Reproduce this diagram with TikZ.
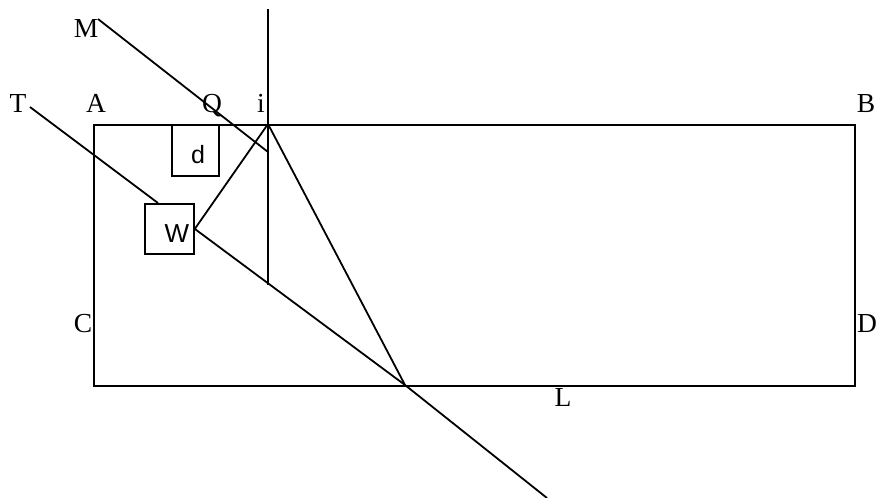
\documentclass[tikz,border=0pt]{standalone}
\usepackage{fontspec}
\setmainfont{Liberation Serif}
\newfontfamily\sansf{Liberation Sans}
\begin{document}
\begin{tikzpicture}[x=1pt,y=-1pt,line width=1.8pt,
  lbl/.style={anchor=base,inner sep=0pt,font=\fontsize{27.5}{30}\selectfont},
  slbl/.style={anchor=base,inner sep=0pt,font=\sansf\fontsize{25}{28}\selectfont},
  boxn/.style={draw,line width=1.8pt,inner sep=0pt,anchor=north west}]
\useasboundingbox (0,0) rectangle (879,498);
% frame
\node[boxn,minimum width=761,minimum height=261] (frame) at (93,124) {};
% small boxes
\node[boxn,minimum width=47,minimum height=51] (dbox) at (171,124) {};
\node[boxn,minimum width=49,minimum height=50] (wbox) at (144,203) {};
% points
\coordinate (vtop) at (268,9);
\coordinate (vbot) at (268,285);
\coordinate (i) at (268,124);
\coordinate (Mend) at (98,19);
\coordinate (Mhit) at (268,152);
\coordinate (Tend) at (30,107);
\coordinate (Thit) at (158,203);
\coordinate (P) at (405,385);
\coordinate (out) at (547,498);
% lines
\draw (vtop) -- (vbot);
\draw (Mend) -- (Mhit);
\draw (Tend) -- (Thit);
\draw (i) -- (wbox.east);
\draw (wbox.east) -- (P) -- (out);
\draw (i) -- (P);
% labels
\node[lbl] (lM) at (86,37) {M};
\node[lbl] (lT) at (18,112) {T};
\node[lbl] (lA) at (96,112) {A};
\node[lbl] (lQ) at (212,112) {Q};
\node[lbl] (li) at (261,112) {i};
\node[lbl] (lB) at (866,112) {B};
\node[lbl] (lC) at (83,332) {C};
\node[lbl] (lD) at (867,332) {D};
\node[lbl] (lL) at (563,406) {L};
\node[slbl] (ld) at (198,163) {d};
\node[slbl,font=\sansf\fontsize{26}{28}\selectfont] (lW) at (177,242) {W};
\end{tikzpicture}
\end{document}
